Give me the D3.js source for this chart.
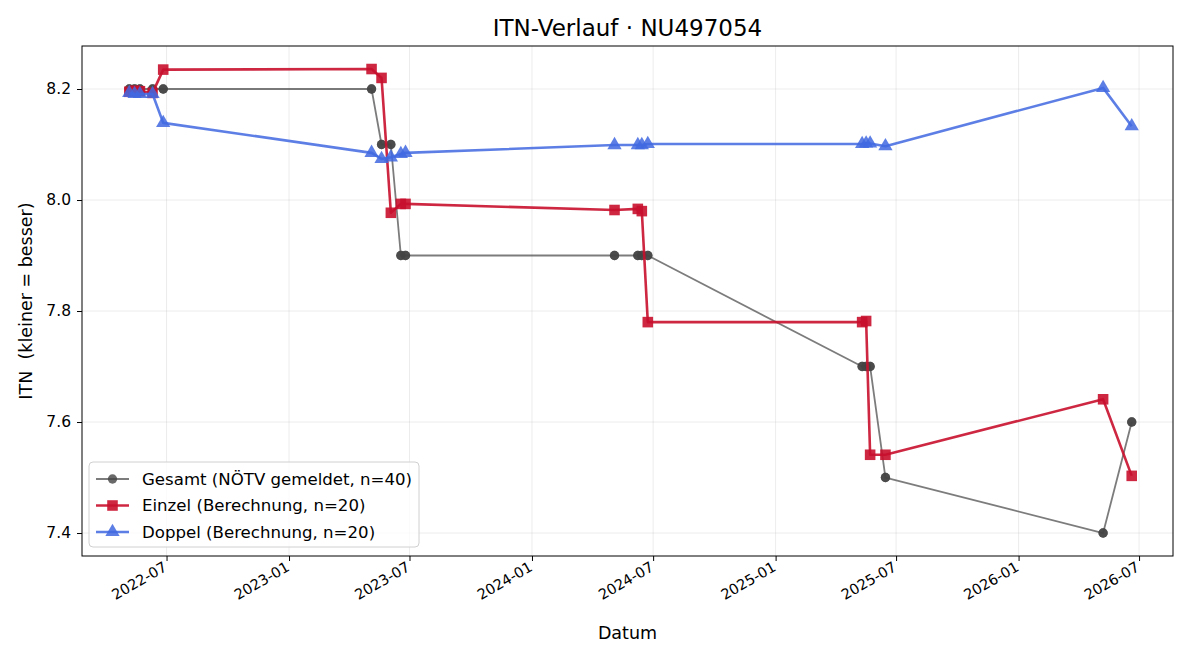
<!DOCTYPE html>
<html lang="de">
<head>
    <meta charset="UTF-8">
    <title>ITN-Verlauf</title>
    <script src="https://d3js.org/d3.v7.min.js"></script>
    <style>
        body { margin: 0; background: #fff; font-family: "DejaVu Sans", sans-serif; }
    </style>
</head>
<body>
    <svg id="chart" width="1200" height="660"></svg>

    <script>
        // Gesamt: 40 reported values (each match date appears twice)
        const gesamtDates = [
            '2022-05-06', '2022-05-06', '2022-05-14', '2022-05-14', '2022-05-22', '2022-05-22',
            '2022-06-10', '2022-06-10', '2022-06-26', '2022-06-26',
            '2023-05-05', '2023-05-05', '2023-05-20', '2023-05-20', '2023-06-03', '2023-06-03',
            '2023-06-18', '2023-06-18', '2023-06-25', '2023-06-25',
            '2024-05-04', '2024-05-04', '2024-06-08', '2024-06-08', '2024-06-14', '2024-06-14',
            '2024-06-23', '2024-06-23',
            '2025-05-11', '2025-05-11', '2025-05-17', '2025-05-17', '2025-05-23', '2025-05-23',
            '2025-06-15', '2025-06-15',
            '2026-05-08', '2026-05-08', '2026-06-20', '2026-06-20'
        ];
        const gesamtValues = [
            8.2, 8.2, 8.2, 8.2, 8.2, 8.2,
            8.2, 8.2, 8.2, 8.2,
            8.2, 8.2, 8.1, 8.1, 8.1, 8.1,
            7.9, 7.9, 7.9, 7.9,
            7.9, 7.9, 7.9, 7.9, 7.9, 7.9,
            7.9, 7.9,
            7.7, 7.7, 7.7, 7.7, 7.7, 7.7,
            7.5, 7.5,
            7.4, 7.4, 7.6, 7.6
        ];

        // Einzel: 20 computed values
        const einzelDates = [
            '2022-05-06', '2022-05-14', '2022-05-22', '2022-06-10', '2022-06-26',
            '2023-05-05', '2023-05-20', '2023-06-03', '2023-06-18', '2023-06-25',
            '2024-05-04', '2024-06-08', '2024-06-14', '2024-06-23',
            '2025-05-11', '2025-05-17', '2025-05-23', '2025-06-15',
            '2026-05-08', '2026-06-20'
        ];
        const einzelValues = [
            8.195, 8.197, 8.196, 8.193, 8.235,
            8.236, 8.220, 7.977, 7.993, 7.993,
            7.982, 7.984, 7.980, 7.780,
            7.780, 7.782, 7.541, 7.541,
            7.641, 7.503
        ];

        // Doppel: 20 computed values
        const doppelDates = einzelDates.slice();
        const doppelValues = [
            8.193, 8.191, 8.191, 8.191, 8.139,
            8.085, 8.074, 8.077, 8.083, 8.085,
            8.099, 8.099, 8.099, 8.101,
            8.101, 8.102, 8.102, 8.097,
            8.202, 8.133
        ];

        const yTicks = [7.4, 7.6, 7.8, 8.0, 8.2];
        const xTickDates = ['2022-07-01', '2023-01-01', '2023-07-01', '2024-01-01', '2024-07-01',
                            '2025-01-01', '2025-07-01', '2026-01-01', '2026-07-01'];

        const parse = d3.utcParse('%Y-%m-%d');
        const toPoints = (dates, values) => dates.map((d, i) => ({ date: parse(d), value: values[i] }));

        const series = [
            { label: 'Gesamt (NÖTV gemeldet, n=40)', data: toPoints(gesamtDates, gesamtValues),
              line: '#444444', lineOpacity: 0.7, width: 1.8, marker: 'circle', fill: '#444444', fillOpacity: 0.8, size: 68 },
            { label: 'Einzel (Berechnung, n=20)', data: toPoints(einzelDates, einzelValues),
              line: '#c8102e', lineOpacity: 0.9, width: 2.6, marker: 'square', fill: '#c8102e', fillOpacity: 0.9, size: 112 },
            { label: 'Doppel (Berechnung, n=20)', data: toPoints(doppelDates, doppelValues),
              line: '#4169e1', lineOpacity: 0.85, width: 2.6, marker: 'triangle', fill: '#4169e1', fillOpacity: 0.85, size: 88 }
        ];

        const svg = d3.select('#chart');
        const margin = { top: 46, right: 27, bottom: 104, left: 82 };
        const width = 1200 - margin.left - margin.right;
        const height = 660 - margin.top - margin.bottom;

        const x = d3.scaleUtc()
            .domain([parse('2022-02-24'), parse('2026-08-21')])
            .range([margin.left, margin.left + width]);
        const y = d3.scaleLinear()
            .domain([7.3586, 8.2775])
            .range([margin.top + height, margin.top]);

        // grid
        const grid = svg.append('g').attr('stroke', '#b0b0b0').attr('stroke-opacity', 0.3).attr('stroke-width', 0.8);
        grid.selectAll('.gx').data(xTickDates).enter().append('line')
            .attr('x1', d => x(parse(d))).attr('x2', d => x(parse(d)))
            .attr('y1', margin.top).attr('y2', margin.top + height);
        grid.selectAll('.gy').data(yTicks).enter().append('line')
            .attr('x1', margin.left).attr('x2', margin.left + width)
            .attr('y1', d => y(d)).attr('y2', d => y(d));

        // axes
        const xAxis = svg.append('g')
            .attr('transform', `translate(0,${margin.top + height})`)
            .call(d3.axisBottom(x).tickValues(xTickDates.map(parse)).tickFormat(d3.utcFormat('%Y-%m')).tickSize(5));
        xAxis.select('.domain').remove();
        xAxis.selectAll('.tick line').attr('stroke', '#000');
        xAxis.selectAll('.tick text')
            .attr('font-family', 'DejaVu Sans').attr('font-size', 14.5).attr('fill', '#000')
            .attr('text-anchor', 'end')
            .attr('dy', 0)
            .attr('y', 0)
            .attr('transform', 'translate(1,14) rotate(-30)');

        const yAxis = svg.append('g')
            .attr('transform', `translate(${margin.left},0)`)
            .call(d3.axisLeft(y).tickValues(yTicks).tickFormat(d3.format('.1f')).tickSize(5).tickPadding(6));
        yAxis.select('.domain').remove();
        yAxis.selectAll('.tick line').attr('stroke', '#000');
        yAxis.selectAll('.tick text').attr('font-family', 'DejaVu Sans').attr('font-size', 15.5).attr('fill', '#000');

        // series
        const line = d3.line().x(d => x(d.date)).y(d => y(d.value));
        const symbolType = { circle: d3.symbolCircle, square: d3.symbolSquare, triangle: d3.symbolTriangle };

        series.forEach(s => {
            const g = svg.append('g');
            g.append('path')
                .datum(s.data)
                .attr('fill', 'none')
                .attr('stroke', s.line)
                .attr('stroke-opacity', s.lineOpacity)
                .attr('stroke-width', s.width)
                .attr('stroke-linejoin', 'round')
                .attr('d', line);
            g.selectAll('.pt').data(s.data).enter().append('path')
                .attr('transform', d => `translate(${x(d.date)},${y(d.value)})`)
                .attr('d', d3.symbol().type(symbolType[s.marker]).size(s.size))
                .attr('fill', s.fill)
                .attr('fill-opacity', s.fillOpacity);
        });

        // frame
        svg.append('rect')
            .attr('x', margin.left).attr('y', margin.top)
            .attr('width', width).attr('height', height)
            .attr('fill', 'none').attr('stroke', '#000').attr('stroke-width', 1);

        // title and labels
        svg.append('text')
            .attr('x', margin.left + width / 2).attr('y', 36)
            .attr('text-anchor', 'middle')
            .attr('font-family', 'DejaVu Sans').attr('font-size', 23)
            .text('ITN-Verlauf · NU497054');
        svg.append('text')
            .attr('x', margin.left + width / 2).attr('y', 639)
            .attr('text-anchor', 'middle')
            .attr('font-family', 'DejaVu Sans').attr('font-size', 17.5)
            .text('Datum');
        svg.append('text')
            .attr('transform', `translate(32,${margin.top + height / 2}) rotate(-90)`)
            .attr('text-anchor', 'middle')
            .attr('font-family', 'DejaVu Sans').attr('font-size', 17.5)
            .attr('xml:space', 'preserve')
            .style('white-space', 'pre')
            .text('ITN  (kleiner = besser)');

        // legend
        const legend = svg.append('g').attr('transform', 'translate(89,462)');
        legend.append('rect')
            .attr('width', 330).attr('height', 85).attr('rx', 4)
            .attr('fill', '#fff').attr('fill-opacity', 0.8)
            .attr('stroke', '#d0d0d0');
        const items = legend.selectAll('.item').data(series).enter().append('g')
            .attr('transform', (d, i) => `translate(0,${17 + i * 26.5})`);
        items.append('line')
            .attr('x1', 7).attr('x2', 40)
            .attr('stroke', d => d.line).attr('stroke-opacity', d => d.lineOpacity)
            .attr('stroke-width', d => d.width);
        items.append('path')
            .attr('transform', 'translate(23.5,0)')
            .attr('d', d => d3.symbol().type(symbolType[d.marker]).size(d.size)())
            .attr('fill', d => d.fill).attr('fill-opacity', d => d.fillOpacity);
        items.append('text')
            .attr('x', 53).attr('dy', '0.35em')
            .attr('font-family', 'DejaVu Sans').attr('font-size', 16.6)
            .text(d => d.label);
    </script>
</body>
</html>
